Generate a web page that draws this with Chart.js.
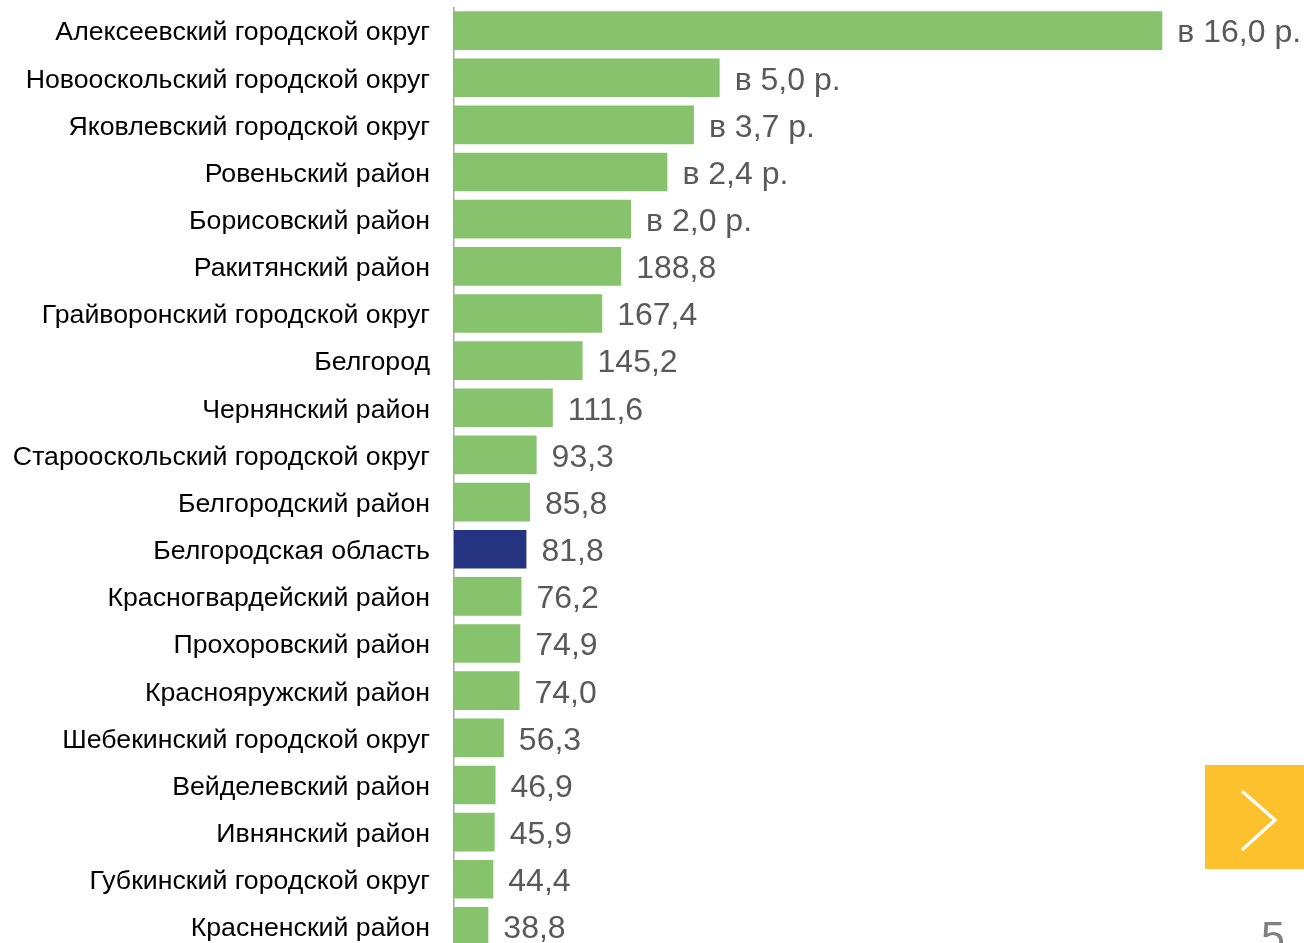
<!DOCTYPE html>
<html>
<head>
<meta charset="utf-8">
<script src="https://cdn.jsdelivr.net/npm/chart.js@4.4.1/dist/chart.umd.min.js"></script>
<style>
  html, body { margin: 0; padding: 0; background: #ffffff; overflow: hidden; }
  body { width: 1304px; height: 943px; position: relative; }
  #wrap { position: absolute; left: 0; top: 7px; width: 1304px; height: 943px; }
  #next { position: absolute; left: 1205px; top: 765px; width: 99px; height: 104px; background: #fdc12d; }
  #page { position: absolute; left: 1261px; top: 915px; font: 43px "Liberation Sans", Arial, sans-serif; line-height: 1; color: #808080; }
</style>
</head>
<body>
<div id="wrap"><canvas id="bar-chart"></canvas></div>
<div id="next">
  <svg width="99" height="104">
    <polyline points="38,27 70,55 38,84" fill="none" stroke="#ffffff" stroke-width="3.3" stroke-linecap="round" stroke-linejoin="miter"/>
  </svg>
</div>
<div id="page">5</div>
<script>
const categories = [
  "Алексеевский городской округ",
  "Новооскольский городской округ",
  "Яковлевский городской округ",
  "Ровеньский район",
  "Борисовский район",
  "Ракитянский район",
  "Грайворонский городской округ",
  "Белгород",
  "Чернянский район",
  "Старооскольский городской округ",
  "Белгородский район",
  "Белгородская область",
  "Красногвардейский район",
  "Прохоровский район",
  "Краснояружский район",
  "Шебекинский городской округ",
  "Вейделевский район",
  "Ивнянский район",
  "Губкинский городской округ",
  "Красненский район",
];

// bar lengths as drawn (top rows are shortened in the picture)
const barValues = [800, 300, 271, 241, 200, 188.8, 167.4, 145.2, 111.6, 93.3, 85.8, 81.8, 76.2, 74.9, 74.0, 56.3, 46.9, 45.9, 44.4, 38.8];

const valueLabels = [
  "в 16,0 р.", "в 5,0 р.", "в 3,7 р.", "в 2,4 р.", "в 2,0 р.",
  "188,8", "167,4", "145,2", "111,6", "93,3", "85,8", "81,8", "76,2",
  "74,9", "74,0", "56,3", "46,9", "45,9", "44,4", "38,8",
];

const highlightCategory = "Белгородская область";

const GREEN = "#87c26c";
const NAVY = "#253480";

const valueLabelPlugin = {
  id: "valueLabels",
  afterDatasetsDraw(chart) {
    const ctx = chart.ctx;
    const meta = chart.getDatasetMeta(0);
    ctx.save();
    ctx.font = '32px "Liberation Sans", Arial, sans-serif';
    ctx.fillStyle = "#595959";
    ctx.textAlign = "left";
    ctx.textBaseline = "middle";
    meta.data.forEach((bar, i) => {
      ctx.fillText(valueLabels[i], bar.x + 15, bar.y + 3);
    });
    ctx.restore();
  },
};

new Chart(document.getElementById("bar-chart"), {
  type: "bar",
  data: {
    labels: categories,
    datasets: [
      {
        data: barValues,
        backgroundColor: categories.map((c) => (c === highlightCategory ? NAVY : GREEN)),
        barPercentage: 0.82,
        categoryPercentage: 1,
      },
    ],
  },
  options: {
    indexAxis: "y",
    responsive: true,
    maintainAspectRatio: false,
    animation: false,
    layout: { padding: 0 },
    plugins: {
      legend: { display: false },
      tooltip: { enabled: false },
    },
    scales: {
      x: {
        display: false,
        min: 0,
        max: 960,
      },
      y: {
        afterFit: (scale) => {
          scale.width = 454;
          scale.paddingTop = 0;
          scale.paddingBottom = 0;
        },
        grid: { display: false, drawTicks: false },
        border: { display: true, color: "#a6a6a6", width: 1.5 },
        ticks: {
          padding: 24,
          labelOffset: 2.5,
          color: "#000000",
          font: { family: "Liberation Sans", size: 26.7 },
        },
      },
    },
  },
  plugins: [valueLabelPlugin],
});
</script>
</body>
</html>
